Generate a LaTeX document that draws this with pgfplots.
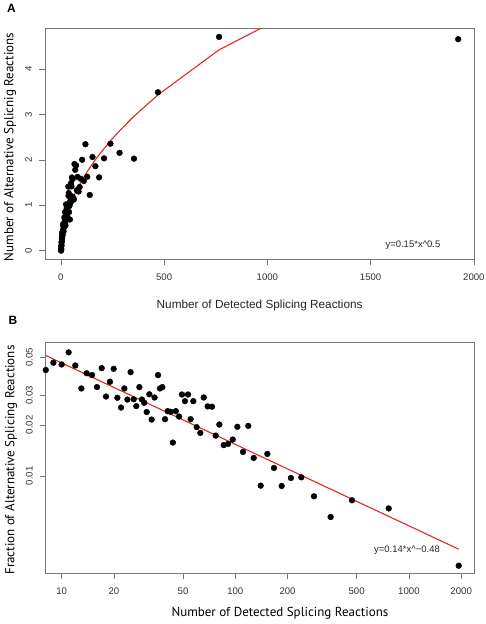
\documentclass[border=0pt]{standalone}
\usepackage{fontspec}
\setmainfont{Liberation Sans}
\newfontfamily\hum{PT Sans}
\usepackage{pgfplots}
\pgfplotsset{compat=1.18}
\usepackage{pgfplotstable}
\definecolor{fitred}{RGB}{225,40,35}
\definecolor{frame}{RGB}{120,120,120}

\pgfplotstableread{
x y
1 0.0
1 0.05
2 0.03
2 0.10
3 0.12
3 0.18
4 0.20
5 0.25
5 0.30
6 0.28
7 0.35
7 0.40
8.1 0.341
8.96 0.417
10 0.454
10.97 0.587
11.98 0.537
12.98 0.426
13.93 0.561
14.96 0.588
15.97 0.533
17 0.734
18 0.529
18.97 0.681
19.93 0.853
20.93 0.605
21.97 0.556
22.96 0.753
23.9 0.674
24.95 1.020
25.98 0.735
26.9 0.694
28.02 0.936
29 0.818
29.9 0.807
30.88 0.735
31.99 0.969
32.98 0.709
34.3 0.995
35.9 1.411
36.8 1.207
38 1.269
39.4 0.851
40.8 0.983
42.4 1.013
43.7 0.687
45.4 1.094
47.4 1.062
49.3 1.489
51.3 1.416
53.4 1.613
55.3 1.194
57.3 1.581
59.9 1.162
62.9 1.128
65.8 1.908
69.3 1.781
73.4 1.879
77.1 1.333
80.9 1.626
85.7 1.303
90.8 1.403
96.6 1.583
102.8 2.003
110.8 1.536
118.8 2.345
127.6 1.629
140 1.228
153 2.064
167 1.862
185 1.615
209 2.034
240 2.357
284 2.156
354 2.028
470 3.49
766 4.71
1924 4.66
}\dataA

\pgfplotstableread{
x y
8.1 0.0421
8.96 0.0465
10 0.0454
10.97 0.0535
11.98 0.0448
12.98 0.0328
13.93 0.0403
14.96 0.0393
15.97 0.0334
17 0.0432
18 0.0294
18.97 0.0359
19.93 0.0428
20.93 0.0289
21.97 0.0253
22.96 0.0328
23.9 0.0282
24.95 0.0409
25.98 0.0283
26.9 0.0258
28.02 0.0334
29 0.0282
29.9 0.0270
30.88 0.0238
31.99 0.0303
32.98 0.0215
34.3 0.0290
35.9 0.0393
36.8 0.0328
38 0.0334
39.4 0.0216
40.8 0.0241
42.4 0.0239
43.7 0.01573
45.4 0.0241
47.4 0.0224
49.3 0.0302
51.3 0.0276
53.4 0.0302
55.3 0.0216
57.3 0.0276
59.9 0.0194
62.9 0.01794
65.8 0.0290
69.3 0.0257
73.4 0.0256
77.1 0.01729
80.9 0.0201
85.7 0.0152
90.8 0.01545
96.6 0.01639
102.8 0.01948
110.8 0.01386
118.8 0.01974
127.6 0.01277
140 0.00877
153 0.01349
167 0.01115
185 0.00873
209 0.00973
240 0.00982
284 0.00759
354 0.00573
470 0.00719
765 0.00644
1936 0.00296
}\dataB

\pgfplotsset{
  rstyle/.style={
    scale only axis,
    axis line style={frame, line width=0.8pt},
    tick align=outside,
    xtick pos=bottom, ytick pos=left,
    major tick length=5.5pt,
    tick style={frame, line width=0.7pt},
    minor tick num=0,
    /pgf/number format/assume math mode=true,
    tick label style={font=\fontsize{9.6}{11}\selectfont, text=black!80},
    yticklabel style={rotate=90, anchor=south},
    xticklabel shift=5pt,
    yticklabel shift=4pt,
    clip=true,
  },
}

\begin{document}
\begin{tikzpicture}
\useasboundingbox (0,0) rectangle (486pt,624pt);

% Panel A
\begin{axis}[rstyle,
  at={(45pt,364.7pt)}, anchor=south west,
  width=429.3pt, height=231pt,
  xmin=-77, xmax=2002, ymin=-0.19, ymax=4.9,
  xtick={0,500,1000,1500,2000},
  xticklabels={0,500,1000,1500,2000},
  ytick={0,1,2,3,4},
  yticklabels={0,1,2,3,4},
  xlabel={Number of Detected Splicing Reactions},
  ylabel={Number of Alternative Splicnig Reactions},
  xlabel style={at={(axis description cs:0.5,-0.2)}, anchor=center, font=\fontsize{11.8}{13}\selectfont, text=black!85},
  ylabel style={at={(axis description cs:-0.0815,0.486)}, anchor=center, rotate=0, font=\hum\fontsize{13}{15}\selectfont},
]
\addplot[only marks, mark=*, mark size=2.9pt, black] table[x=x,y=y] {\dataA};
\addplot[fitred, line width=1.1pt, no marks] coordinates {
(1,0.140) (2,0.2008) (3,0.2479) (5,0.3233) (8,0.4128) (10,0.4636) (15,0.5724)
(20,0.6648) (30,0.8207) (40,0.9533) (50,1.0706) (60,1.1768) (80,1.3668)
(100,1.535) (128,1.746) (153,1.915) (185,2.114) (240,2.420) (284,2.642)
(354,2.962) (470,3.433) (766,4.425) (1924,7.144)};
\node[font=\fontsize{9.5}{11}\selectfont, text=black!85] at (axis cs:1705,0.125) {y=0.15*x\textasciicircum 0.5};
\end{axis}
\node[font=\bfseries\fontsize{12}{14}\selectfont] at (11.5pt,616pt) {A};

% Panel B
\begin{axis}[rstyle,
  at={(45.7pt,50.7pt)}, anchor=south west,
  width=428.3pt, height=230.6pt,
  xmode=log, ymode=log,
  xmin=8.09, xmax=2371, ymin=0.00267, ymax=0.061,
  xtick={10,20,50,100,200,500,1000,2000},
  xticklabels={10,20,50,100,200,500,1000,2000},
  ytick={0.01,0.02,0.03,0.05},
  yticklabels={0.01,0.02,0.03,0.05},
  xlabel={Number of Detected Splicing Reactions},
  ylabel={Fraction of Alternative Splicing Reactions},
  xlabel style={at={(axis description cs:0.547,-0.172)}, anchor=center, font=\hum\fontsize{13}{15}\selectfont},
  ylabel style={at={(axis description cs:-0.081,0.491)}, anchor=center, rotate=0, font=\hum\fontsize{13}{15}\selectfont},
]
\addplot[only marks, mark=*, mark size=2.9pt, black] table[x=x,y=y] {\dataB};
\addplot[fitred, line width=1.1pt, no marks] coordinates {(7,0.0550) (1936,0.003703)};
\node[font=\fontsize{9.5}{11}\selectfont, text=black!85] at (axis cs:975,0.00364) {y=0.14*x\textasciicircum −0.48};
\end{axis}
\node[font=\bfseries\fontsize{12}{14}\selectfont] at (13pt,304pt) {B};
\end{tikzpicture}
\end{document}
